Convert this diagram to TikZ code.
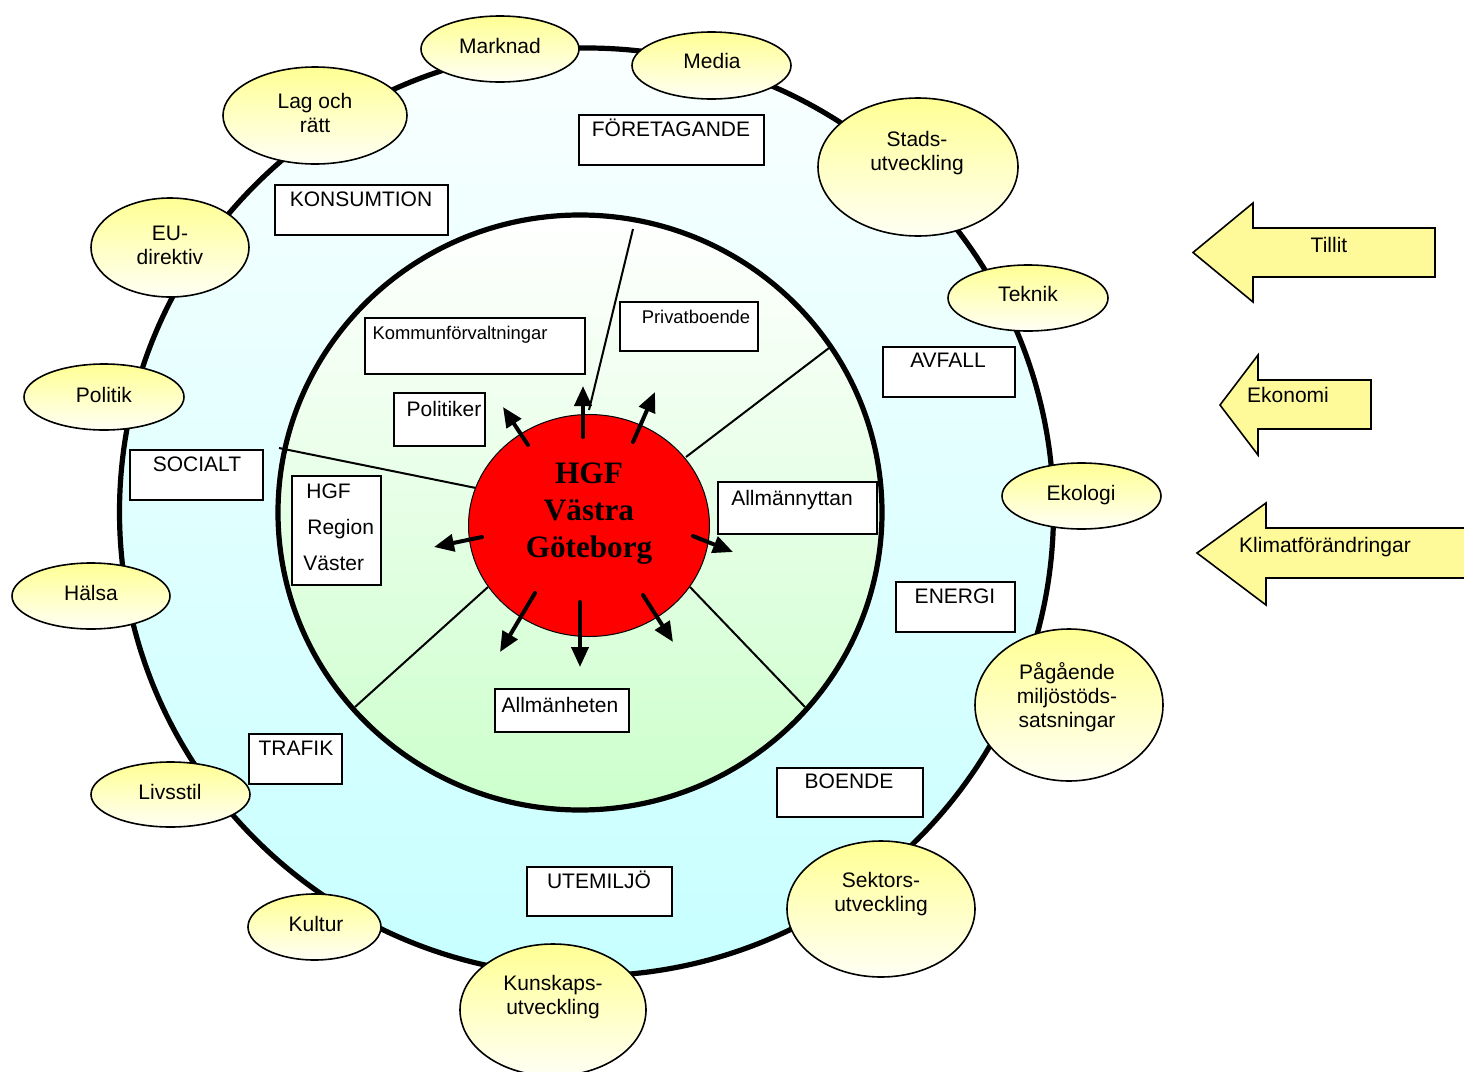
\documentclass[tikz,border=0pt]{standalone}
\usepackage{fontspec}
\setmainfont{Liberation Sans}
\newfontfamily\hgffont{Liberation Serif}
\usetikzlibrary{fit,arrows.meta,shapes.geometric}
\begin{document}
\begin{tikzpicture}[x=0.5pt,y=-0.5pt,
  lbl/.style={inner sep=0pt, font=\fontsize{10.5}{12}\selectfont, align=center},
  slbl/.style={inner sep=0pt, font=\fontsize{9.2}{11}\selectfont},
  box/.style={draw, line width=1pt, fill=white, inner sep=0pt},
  oval/.style={ellipse, draw, line width=0.8pt, top color=yellow!42, bottom color=yellow!4, inner sep=0pt},
  divider/.style={line width=1pt},
  ray/.style={line width=2pt, line cap=round, -{Triangle[length=10pt,width=8.5pt]}},
  bigarrow/.style={draw, line width=0.8pt, fill=yellow!40, line join=miter},
  ring/.style={ellipse, draw, line width=2.6pt, inner sep=0pt}
]
\clip (0,0) rectangle (1464,1072);
\useasboundingbox (0,0) rectangle (1464,1072);

% rings
\node[ring, top color=cyan!2, bottom color=cyan!22, minimum width=467pt, minimum height=464pt] (world) at (586.5,512) {};
\node[ring, top color=white, bottom color=green!20, minimum width=302pt, minimum height=297.5pt] (org) at (580,512.5) {};

% dividers
\coordinate (d1a) at (633,229); \coordinate (d1b) at (589,410);
\coordinate (d2a) at (829,348); \coordinate (d2b) at (686,457);
\coordinate (d3a) at (279,448); \coordinate (d3b) at (476,488);
\coordinate (d4a) at (355,707); \coordinate (d4b) at (488,587);
\coordinate (d5a) at (690,587); \coordinate (d5b) at (805,707);
\draw[divider] (d1a) -- (d1b);
\draw[divider] (d2a) -- (d2b);
\draw[divider] (d3a) -- (d3b);
\draw[divider] (d4a) -- (d4b);
\draw[divider] (d5a) -- (d5b);

% centre
\node[ellipse, draw, line width=0.5pt, fill=red, inner sep=0pt, minimum width=120.5pt, minimum height=111pt] (hgf) at (589,525.5) {};
\node[inner sep=0pt, align=center, font=\hgffont\bfseries\fontsize{15.6}{18.5}\selectfont] (hgft) at (589,513.5) {HGF\\Västra\\Göteborg};

% rays
\coordinate (r1a) at (528,445); \coordinate (r1b) at (503,407);
\coordinate (r2a) at (583,437); \coordinate (r2b) at (583,386);
\coordinate (r3a) at (633,442); \coordinate (r3b) at (655,392);
\coordinate (r4a) at (482,537); \coordinate (r4b) at (434,547);
\coordinate (r5a) at (693,536); \coordinate (r5b) at (733,552);
\coordinate (r6a) at (535,593); \coordinate (r6b) at (500,652);
\coordinate (r7a) at (580,602); \coordinate (r7b) at (580,667);
\coordinate (r8a) at (643,595); \coordinate (r8b) at (673,642);
\draw[ray] (r1a) -- (r1b);
\draw[ray] (r2a) -- (r2b);
\draw[ray] (r3a) -- (r3b);
\draw[ray] (r4a) -- (r4b);
\draw[ray] (r5a) -- (r5b);
\draw[ray] (r6a) -- (r6b);
\draw[ray] (r7a) -- (r7b);
\draw[ray] (r8a) -- (r8b);

% boxes
\node[box, fit={(579,115) (764,165)}] (foretag) {};
\node[lbl, anchor=base] (foretagt) at (671,136) {FÖRETAGANDE};
\node[box, fit={(275,185) (448,235)}] (konsum) {};
\node[lbl, anchor=base] (konsumt) at (361,206) {KONSUMTION};
\node[box, fit={(365,318) (585,374)}] (kommun) {};
\node[slbl, anchor=base] (kommunt) at (460,339) {Kommunförvaltningar};
\node[box, fit={(620,302) (758,351)}] (privat) {};
\node[slbl, anchor=base] (privatt) at (696,323) {Privatboende};
\node[box, fit={(394,393) (485,446)}] (politiker) {};
\node[lbl, anchor=base] (politikert) at (444,416) {Politiker};
\node[box, fit={(292,476) (381,585)}] (hgfreg) {};
\node[lbl, anchor=base west] (hgfreg1) at (306,498) {HGF};
\node[lbl, anchor=base west] (hgfreg2) at (307,534) {Region};
\node[lbl, anchor=base west] (hgfreg3) at (303,570) {Väster};
\node[box, fit={(718,482) (877,534)}] (allmnyt) {};
\node[lbl, anchor=base] (allmnytt) at (792,505) {Allmännyttan};
\node[box, fit={(883,347) (1015,397)}] (avfall) {};
\node[lbl, anchor=base] (avfallt) at (948,367) {AVFALL};
\node[box, fit={(896,582) (1015,632)}] (energi) {};
\node[lbl, anchor=base] (energit) at (955,603) {ENERGI};
\node[box, fit={(495,689) (629,732)}] (allmanh) {};
\node[lbl, anchor=base] (allmanht) at (560,712) {Allmänheten};
\node[box, fit={(777,768) (923,817)}] (boende) {};
\node[lbl, anchor=base] (boendet) at (849,788) {BOENDE};
\node[box, fit={(130,450) (263,500)}] (socialt) {};
\node[lbl, anchor=base] (socialtt) at (197,471) {SOCIALT};
\node[box, fit={(249,734) (342,784)}] (trafik) {};
\node[lbl, anchor=base] (trafikt) at (296,755) {TRAFIK};
\node[box, fit={(527,867) (672,916)}] (utemiljo) {};
\node[lbl, anchor=base] (utemiljot) at (599,888) {UTEMILJÖ};

% ovals
\node[oval, minimum width=79pt, minimum height=33pt] (marknad) at (500,49) {};
\node[lbl, anchor=base] (marknadt) at (500,53) {Marknad};
\node[oval, minimum width=79.5pt, minimum height=33.5pt] (media) at (711.5,65.5) {};
\node[lbl, anchor=base] (mediat) at (712,68) {Media};
\node[oval, minimum width=92pt, minimum height=48.5pt] (lag) at (315,115.5) {};
\node[lbl] (lagt) at (315,112.5) {Lag och\\rätt};
\node[oval, minimum width=100pt, minimum height=69pt] (stads) at (918,167) {};
\node[lbl] (stadst) at (917,153.5) {Stads-\\utveckling};
\node[oval, minimum width=79pt, minimum height=49.5pt] (eu) at (170,247.5) {};
\node[lbl] (eut) at (170,245) {EU-\\direktiv};
\node[oval, minimum width=80pt, minimum height=33pt] (teknik) at (1028,298) {};
\node[lbl, anchor=base] (teknikt) at (1028,301) {Teknik};
\node[oval, minimum width=80pt, minimum height=33pt] (politik) at (104,397) {};
\node[lbl, anchor=base] (politikt) at (104,402) {Politik};
\node[oval, minimum width=79.5pt, minimum height=33pt] (ekologi) at (1081.5,496) {};
\node[lbl, anchor=base] (ekologit) at (1081,500) {Ekologi};
\node[oval, minimum width=79pt, minimum height=33pt] (halsa) at (91,596) {};
\node[lbl, anchor=base] (halsat) at (91,600) {Hälsa};
\node[oval, minimum width=94pt, minimum height=76pt] (pagaende) at (1069,705) {};
\node[lbl] (pagaendet) at (1067,697) {Pågående\\miljöstöds-\\satsningar};
\node[oval, minimum width=79.5pt, minimum height=32.5pt] (livsstil) at (170.5,794.5) {};
\node[lbl, anchor=base] (livsstilt) at (170,799) {Livsstil};
\node[oval, minimum width=94pt, minimum height=68pt] (sektors) at (881,909) {};
\node[lbl] (sektorst) at (881,894.5) {Sektors-\\utveckling};
\node[oval, minimum width=66.5pt, minimum height=33pt] (kultur) at (314.5,927) {};
\node[lbl, anchor=base] (kulturt) at (316,931) {Kultur};
\node[oval, minimum width=93pt, minimum height=66pt] (kunskap) at (553,1010) {};
\node[lbl] (kunskapt) at (553,997.5) {Kunskaps-\\utveckling};

% external forces
\draw[bigarrow] (1435,228) -- (1253,228) -- (1253,203) -- (1193,252.5) -- (1253,302) -- (1253,277) -- (1435,277) -- cycle;
\node[lbl, anchor=base] (tillit) at (1329,252) {Tillit};
\draw[bigarrow] (1371,380) -- (1258,380) -- (1258,355) -- (1220,405) -- (1258,455) -- (1258,429) -- (1371,429) -- cycle;
\node[lbl, anchor=base] (ekonomi) at (1288,402) {Ekonomi};
\draw[bigarrow] (1475,528) -- (1266,528) -- (1266,503) -- (1197,553) -- (1266,605) -- (1266,578) -- (1475,578) -- cycle;
\node[lbl, anchor=base] (klimat) at (1325,552) {Klimatförändringar};
\end{tikzpicture}
\end{document}
